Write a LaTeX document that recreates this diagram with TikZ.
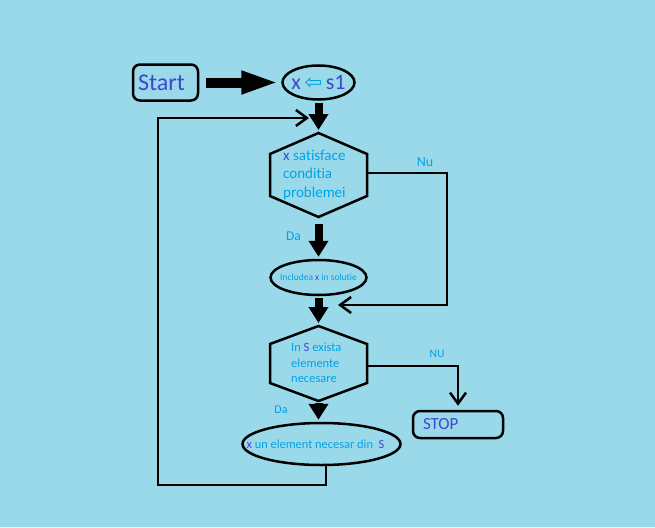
\documentclass[tikz,border=0pt]{standalone}
\usepackage{fontspec}
\setmainfont{Carlito}[Ligatures=NoCommon]
\newfontfamily\arrowfont{DejaVu Sans}
\usetikzlibrary{shapes.geometric,arrows.meta}
\definecolor{paintbg}{RGB}{153,217,234}
\definecolor{paintcyan}{RGB}{0,162,232}
\definecolor{paintindigo}{RGB}{63,72,204}
\newcommand{\fsz}[2]{\fontsize{#1}{#2}\selectfont}
\newcommand{\ovaltxt}[1]{\makebox[0pt]{#1}}

\begin{document}
\begin{tikzpicture}[x=1pt, y=-1pt,
	outline/.style={draw=black, line width=2.5pt},
	oval/.style={outline, ellipse, inner sep=0pt},
	roundbox/.style={outline, rounded corners=7pt, inner sep=0pt},
	hextext/.style={text=paintcyan, align=left, inner sep=0pt, anchor=west},
	blockarrow/.style={line width=8pt, -{Triangle[length=16pt,width=19pt]}},
	flowline/.style={line width=2.5pt, -{Straight Barb[length=11pt,width=16pt]}},
	note/.style={text=paintcyan, font=\fsz{13.5}{16}}]

	\fill[paintbg] (0,0) rectangle (655,527);
	\useasboundingbox (0,0) rectangle (655,527);

	%% Start
	\node[roundbox, minimum width=65pt, minimum height=36pt, text=paintindigo, font=\fsz{24}{28}] (start) at (165.5,82.5) {\ovaltxt{\hspace*{-8pt}Start}};
	\node[oval, minimum width=72pt, minimum height=34pt, font=\fsz{22}{26}] (init) at (318.5,82.5)
	{\ovaltxt{\textcolor{paintindigo}{x}\,{\arrowfont\fsz{21}{24}\textcolor{paintcyan}{⇦}}\,\textcolor{paintindigo}{s1}}};
	\draw[blockarrow, line width=10pt, -{Triangle[length=38pt,width=21pt]}, shorten <=7pt, shorten >=2pt] (start) -- (init);

	%% First test
	\coordinate (cond) at (318.5,175);
	\draw[outline] (cond) ++(0,-42) coordinate (cond-n) -- ++(48.5,21) -- ++(0,42) -- ++(-48.5,21) coordinate (cond-s)
	-- ++(-48.5,-21) -- ++(0,-42) -- cycle;
	\coordinate (cond-e) at (367,173);
	\node[hextext, font=\fsz{15}{18.5}] (condtxt) at (283,175) {\textcolor{paintindigo}{x} satisface\\conditia\\problemei};
	\draw[blockarrow, shorten <=2pt, shorten >=3pt] (init) -- (cond-n);

	%% Da
	\node[oval, minimum width=96pt, minimum height=35pt] (incl) at (318.5,277.5)
	{\ovaltxt{\fsz{9.5}{11}\textcolor{paintcyan}{Includea \textcolor{paintindigo}{x} in solutie}}};
	\node[note] (da1) at (293.5,236) {Da};
	\draw[blockarrow, shorten <=7pt, shorten >=2pt] (cond-s) -- (incl);

	%% Nu
	\coordinate (nuturn) at (447,305);
	\coordinate (mergetip) at (338,305);
	\node[note, font=\fsz{14}{16}] (nu1) at (425,162) {Nu};
	\draw[flowline] (cond-e) -| (nuturn) -- (mergetip);

	%% Second test
	\coordinate (exist) at (318.5,363.5);
	\draw[outline] (exist) ++(0,-37.5) coordinate (exist-n) -- ++(48.5,18) -- ++(0,39) -- ++(-48.5,18) coordinate (exist-s)
	-- ++(-48.5,-18) -- ++(0,-39) -- cycle;
	\coordinate (exist-e) at (367,366);
	\node[hextext, font=\fsz{12.5}{15.5}] (existtxt) at (291,363) {In \textcolor{paintindigo}{S} exista\\elemente\\necesare};
	\draw[blockarrow, shorten <=2pt, shorten >=3pt] (incl) -- (exist-n);

	%% STOP
	\node[roundbox, minimum width=90pt, minimum height=27pt, text=paintindigo, font=\fsz{17}{20}] (stop) at (458,424.5) {\makebox[70pt][l]{STOP}};
	\node[note, font=\fsz{11.5}{13}] (nu2) at (437,354) {NU};
	\draw[flowline, shorten >=4pt] (exist-e) -| (stop);

	%% Next element
	\node[oval, minimum width=158pt, minimum height=42pt] (elem) at (321.5,444)
	{\ovaltxt{\hspace*{-12pt}\fsz{12.4}{15}\textcolor{paintcyan}{\textcolor{paintindigo}{x} un element necesar din \ \textcolor{paintindigo}{S}}}};
	\node[note, font=\fsz{12}{14}] (da2) at (281,410) {Da};
	\draw[blockarrow, shorten <=2pt, shorten >=2pt] (exist-s) -- (exist-s |- elem.north);

	%% Loop back
	\coordinate (back) at (326,485);
	\coordinate (backleft) at (158,485);
	\coordinate (looptip) at (309,118);
	\draw[flowline] (elem.south -| back) -- (back) -- (backleft) |- (looptip);

\end{tikzpicture}
\end{document}
